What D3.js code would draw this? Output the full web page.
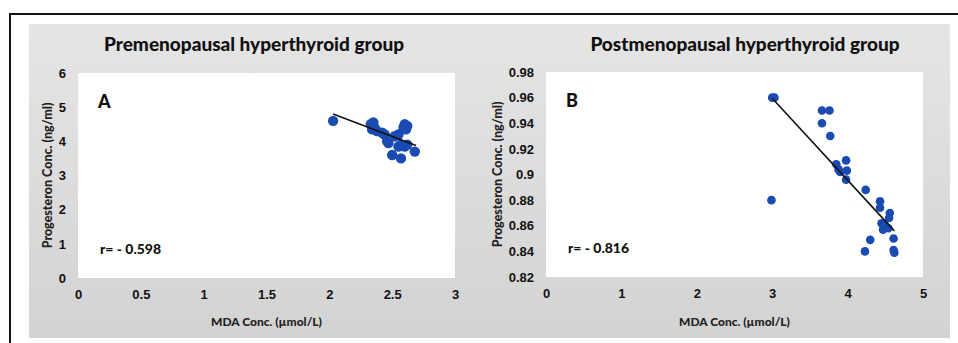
<!DOCTYPE html>
<html>
<head>
<meta charset="utf-8">
<script src="https://cdn.jsdelivr.net/npm/d3@7"></script>
<style>
  body { margin: 0; background: #fff; }
  svg { display: block; font-family: Lato, "Open Sans", sans-serif; }
  .tick line, .domain { display: none; }
  .tick text { font-size: 13px; font-weight: 900; fill: #111; }
</style>
</head>
<body>
<svg width="958" height="343"></svg>
<script>

// panel A: premenopausal
let mdaA = [2.03, 2.33, 2.35, 2.36, 2.34, 2.38, 2.42, 2.44, 2.46, 2.47, 2.52, 2.55, 2.55, 2.57, 2.59, 2.60, 2.61, 2.62, 2.60, 2.50, 2.57, 2.62, 2.68];
let progA = [4.6, 4.5, 4.55, 4.4, 4.35, 4.3, 4.25, 4.2, 4.0, 3.95, 4.15, 4.2, 3.85, 3.9, 4.4, 4.5, 4.35, 4.45, 3.85, 3.6, 3.5, 3.9, 3.7];
let trendA = [[2.03, 4.8], [2.69, 3.88]];

// panel B: postmenopausal
let mdaB = [3.00, 3.03, 2.99, 3.66, 3.76, 3.66, 3.77, 3.85, 3.88, 3.90, 3.98, 3.99, 3.98, 4.24, 4.43, 4.43, 4.56, 4.55, 4.45, 4.47, 4.54, 4.50, 4.61, 4.30, 4.23, 4.61, 4.62];
let progB = [0.960, 0.960, 0.880, 0.950, 0.950, 0.940, 0.930, 0.908, 0.904, 0.902, 0.911, 0.903, 0.896, 0.888, 0.879, 0.874, 0.870, 0.866, 0.862, 0.857, 0.858, 0.860, 0.850, 0.849, 0.840, 0.841, 0.839];
let trendB = [[3.0, 0.9595], [4.62, 0.856]];

let ticksXA = [0, 0.5, 1, 1.5, 2, 2.5, 3];
let ticksYA = [0, 1, 2, 3, 4, 5, 6];
let ticksXB = [0, 1, 2, 3, 4, 5];
let ticksYB = [0.82, 0.84, 0.86, 0.88, 0.9, 0.92, 0.94, 0.96, 0.98];

let svg = d3.select('svg');

let grad = svg.append('defs')
  .append('linearGradient')
  .attr('id', 'bg')
  .attr('x1', 0).attr('y1', 0)
  .attr('x2', 0).attr('y2', 1);
grad.append('stop').attr('offset', '0%').attr('stop-color', '#e6e5e6');
grad.append('stop').attr('offset', '100%').attr('stop-color', '#d3d3d3');

svg.append('rect')
  .attr('x', 10).attr('y', 14)
  .attr('width', 960).attr('height', 340)
  .attr('fill', '#fff')
  .attr('stroke', '#111')
  .attr('stroke-width', 2);

svg.append('rect')
  .attr('x', 29).attr('y', 24)
  .attr('width', 921).attr('height', 314)
  .attr('fill', 'url(#bg)');

function panel(opts) {
  let xScale = d3.scaleLinear().domain(opts.xDomain).range(opts.xRange);
  let yScale = d3.scaleLinear().domain(opts.yDomain).range(opts.yRange);

  let g = svg.append('g');

  g.append('rect')
    .attr('x', opts.xRange[0])
    .attr('y', opts.yRange[1])
    .attr('width', opts.xRange[1] - opts.xRange[0])
    .attr('height', opts.yRange[0] - opts.yRange[1])
    .attr('fill', '#fff');

  let xAxis = d3.axisBottom(xScale)
    .tickValues(opts.xTicks)
    .tickSize(0)
    .tickPadding(12)
    .tickFormat(d => String(d));

  g.append('g')
    .attr('transform', 'translate(0,' + opts.yRange[0] + ')')
    .call(xAxis);

  let yAxis = d3.axisLeft(yScale)
    .tickValues(opts.yTicks)
    .tickSize(0)
    .tickPadding(opts.yPad)
    .tickFormat(d => String(+d.toFixed(2)));

  g.append('g')
    .attr('transform', 'translate(' + opts.xRange[0] + ',0)')
    .call(yAxis);

  g.selectAll('circle')
    .data(d3.zip(opts.xs, opts.ys))
    .join('circle')
    .attr('cx', d => xScale(d[0]))
    .attr('cy', d => yScale(d[1]))
    .attr('r', opts.r)
    .attr('fill', '#1a4bb3');

  g.append('path')
    .attr('d', d3.line().x(d => xScale(d[0])).y(d => yScale(d[1]))(opts.trend))
    .attr('stroke', '#111')
    .attr('stroke-width', 1.6)
    .attr('fill', 'none');

  let midX = (opts.xRange[0] + opts.xRange[1]) / 2;

  g.append('text')
    .attr('x', opts.titleX)
    .attr('y', 51)
    .attr('text-anchor', 'middle')
    .style('font-size', '19px')
    .style('font-weight', 900)
    .attr('fill', '#111')
    .text(opts.title);

  g.append('text')
    .attr('x', midX)
    .attr('y', 326)
    .attr('text-anchor', 'middle')
    .style('font-size', '12px')
    .style('font-weight', 900)
    .attr('fill', '#222')
    .text('MDA Conc. (µmol/L)');

  g.append('text')
    .attr('transform', 'translate(' + opts.yLabelX + ',' + ((opts.yRange[0] + opts.yRange[1]) / 2) + ') rotate(-90)')
    .attr('text-anchor', 'middle')
    .style('font-size', '12.5px')
    .style('font-weight', 900)
    .attr('fill', '#222')
    .text('Progesteron Conc. (ng/ml)');

  g.append('text')
    .attr('x', opts.xRange[0] + 20)
    .attr('y', opts.yRange[1] + 35)
    .style('font-size', '18px')
    .style('font-weight', 900)
    .attr('fill', '#111')
    .text(opts.letter);

  g.append('text')
    .attr('x', opts.xRange[0] + 22)
    .attr('y', opts.yRange[0] - 24)
    .style('font-size', '14px')
    .style('font-weight', 900)
    .attr('fill', '#111')
    .text(opts.rText);
}

panel({
  xs: mdaA, ys: progA, trend: trendA,
  xDomain: [0, 3], xRange: [78, 455],
  yDomain: [0, 6], yRange: [278, 73],
  xTicks: ticksXA, yTicks: ticksYA, yPad: 12,
  r: 5.2, title: 'Premenopausal hyperthyroid group', titleX: 254,
  yLabelX: 52, letter: 'A', rText: 'r= - 0.598'
});

panel({
  xs: mdaB, ys: progB, trend: trendB,
  xDomain: [0, 5], xRange: [546, 923],
  yDomain: [0.82, 0.98], yRange: [277, 72],
  xTicks: ticksXB, yTicks: ticksYB, yPad: 12,
  r: 4.3, title: 'Postmenopausal hyperthyroid group', titleX: 745,
  yLabelX: 502, letter: 'B', rText: 'r= - 0.816'
});

</script>
</body>
</html>
